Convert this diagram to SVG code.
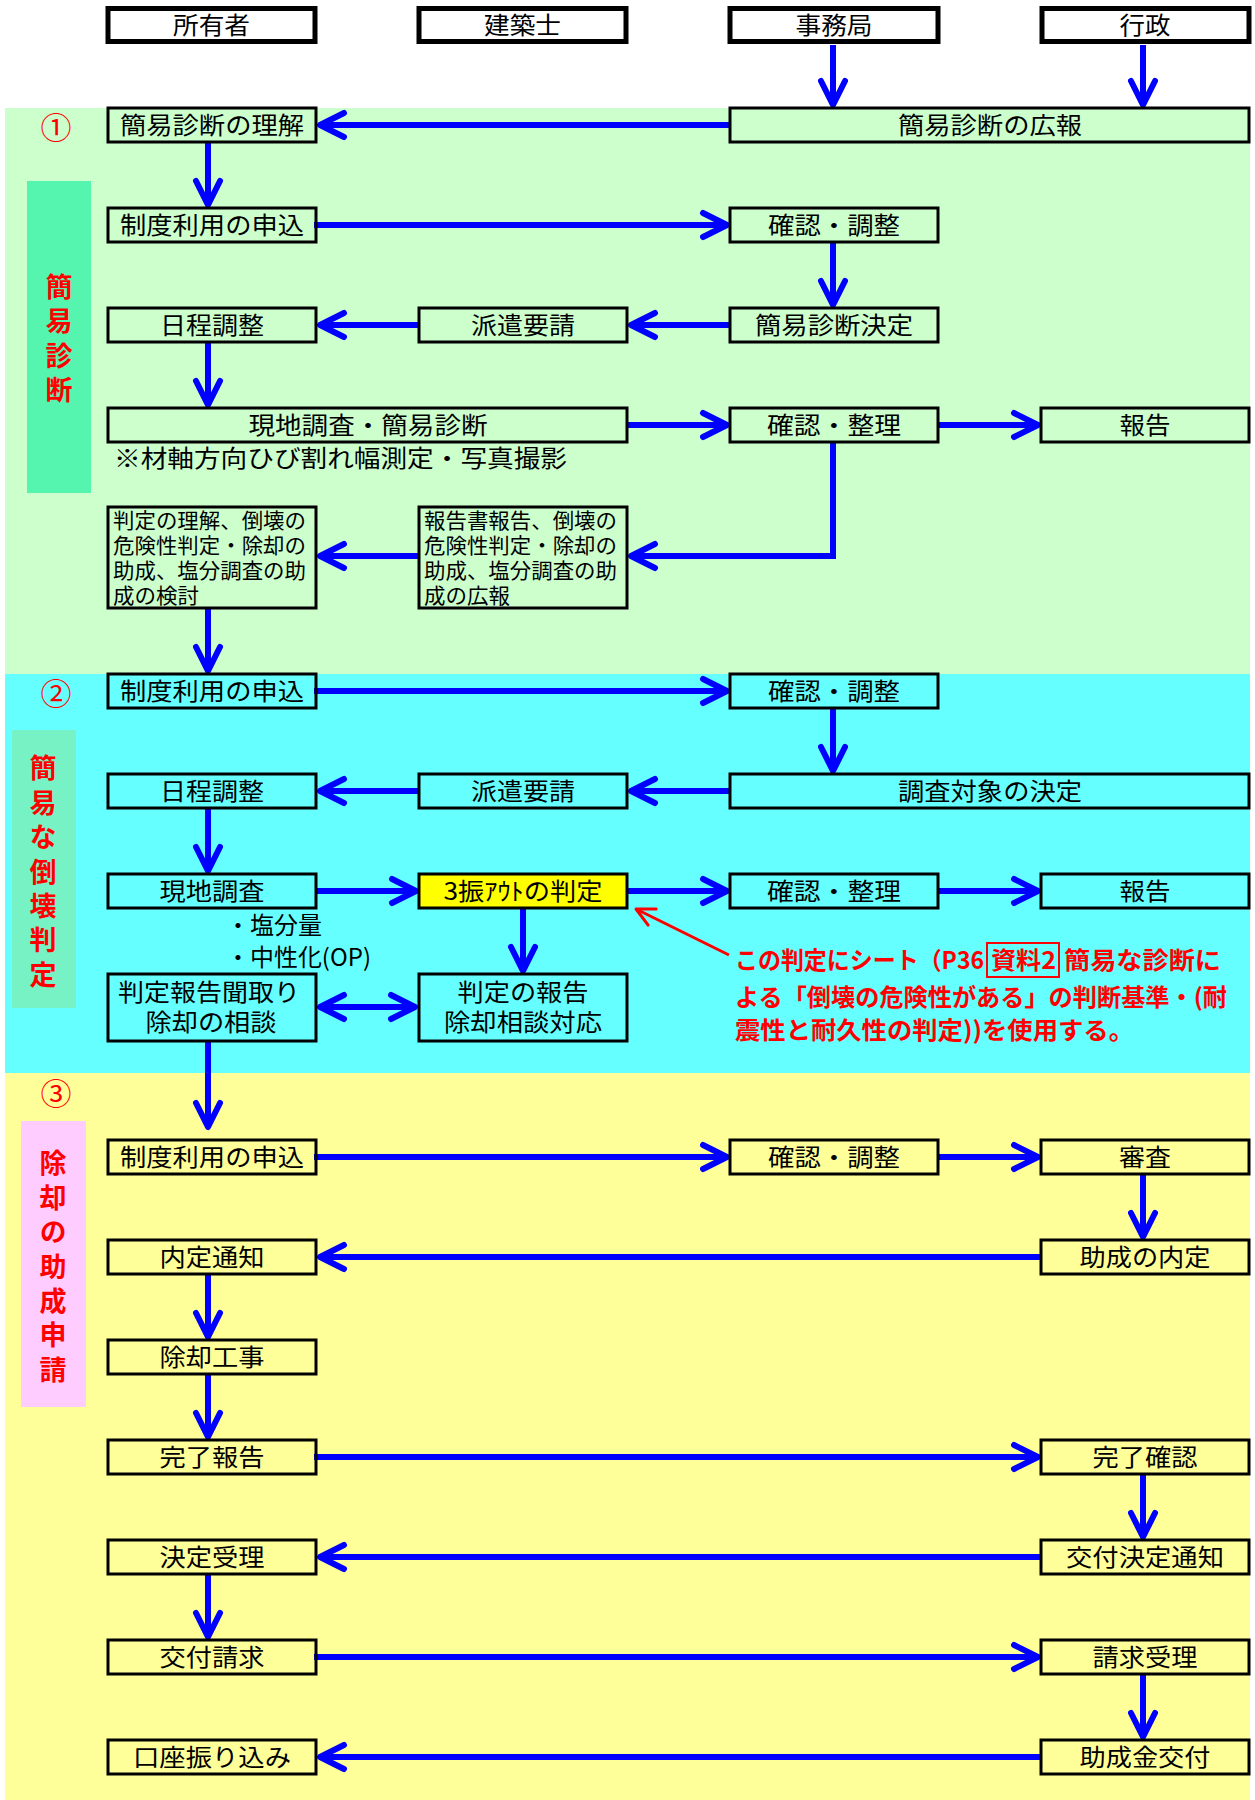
<svg xmlns="http://www.w3.org/2000/svg" width="1255" height="1800" viewBox="0 0 1255 1800">
<style>
.bx{fill:none;stroke:#000;stroke-width:3}
.hd{fill:#fff;stroke:#000;stroke-width:5}
.t{font-family:"Noto Sans CJK JP",sans-serif;font-size:24px;fill:#000;text-anchor:middle}
.tl{font-family:"Noto Sans CJK JP",sans-serif;font-size:21px;fill:#000;text-anchor:start}
.nt{font-family:"Noto Sans CJK JP",sans-serif;font-size:24px;fill:#000;text-anchor:start}
.lab{font-family:"Noto Sans CJK JP",sans-serif;font-weight:bold;font-size:27px;fill:#f00;text-anchor:middle;writing-mode:vertical-rl;letter-spacing:7.4px}
.num{font-family:"Noto Sans CJK JP",sans-serif;font-size:31px;fill:#f00;text-anchor:middle}
.red{font-family:"Noto Sans CJK JP",sans-serif;font-weight:bold;font-size:24px;fill:#f00;text-anchor:start}
.cn{fill:none;stroke:#00f;stroke-width:6;marker-end:url(#ah)}
</style>
<defs>
<marker id="ah" markerUnits="userSpaceOnUse" viewBox="-30 -16 34 32" refX="0" refY="0" markerWidth="34" markerHeight="32" orient="auto-start-reverse">
<path d="M-24,-12 L0,0 L-24,12" fill="none" stroke="#00f" stroke-width="6" stroke-linecap="round" stroke-linejoin="round"/>
</marker>
<marker id="ahr" markerUnits="userSpaceOnUse" viewBox="-22 -12 26 24" refX="0" refY="0" markerWidth="26" markerHeight="24" orient="auto">
<path d="M-18,-9 L0,0 L-18,9" fill="none" stroke="#f00" stroke-width="3" stroke-linecap="round" stroke-linejoin="round"/>
</marker>
</defs>
<rect width="1255" height="1800" fill="#fff"/>
<g id="backgrounds">
<rect x="5" y="108" width="1245" height="566" fill="#CCFFCC"/>
<rect x="5" y="674" width="1245" height="399" fill="#66FFFF"/>
<rect x="5" y="1073" width="1245" height="727" fill="#FFFF99"/>
<rect x="27" y="181" width="64" height="312" fill="#55F5B0"/>
<rect x="12" y="730" width="64" height="278" fill="#77F2C4"/>
<rect x="21" y="1121" width="65" height="286" fill="#FFCCFF"/>
</g>
<g id="section-labels">
<text class="num" x="56" y="139">①</text>
<text class="num" x="56" y="705">②</text>
<text class="num" x="56" y="1105">③</text>
<text class="lab" x="59" y="342">簡易診断</text>
<text class="lab" x="43" y="875">簡易な倒壊判定</text>
<text class="lab" x="53" y="1270">除却の助成申請</text>
</g>
<g id="headers">
<g id="h-owner"><rect class="hd" x="108" y="8.5" width="207" height="33"/><text class="t" x="211.5" y="34" textLength="77" lengthAdjust="spacingAndGlyphs">所有者</text></g>
<g id="h-architect"><rect class="hd" x="419" y="8.5" width="207" height="33"/><text class="t" x="522.5" y="34" textLength="77" lengthAdjust="spacingAndGlyphs">建築士</text></g>
<g id="h-office"><rect class="hd" x="730" y="8.5" width="208" height="33"/><text class="t" x="834" y="34" textLength="77" lengthAdjust="spacingAndGlyphs">事務局</text></g>
<g id="h-gov"><rect class="hd" x="1042" y="8.5" width="207" height="33"/><text class="t" x="1145" y="34" textLength="51" lengthAdjust="spacingAndGlyphs">行政</text></g>
</g>
<g id="connectors">
<path class="cn" d="M833,45 V105"/>
<path class="cn" d="M1143,45 V105"/>
<path class="cn" d="M730,125 H320"/>
<path class="cn" d="M208,142 V205"/>
<path class="cn" d="M314,225 H727"/>
<path class="cn" d="M833,242 V305"/>
<path class="cn" d="M730,325 H631"/>
<path class="cn" d="M419,325 H320"/>
<path class="cn" d="M208,342 V405"/>
<path class="cn" d="M627,425 H727"/>
<path class="cn" d="M938,425 H1038"/>
<path class="cn" d="M833,442 V556 H631"/>
<path class="cn" d="M419,556 H320"/>
<path class="cn" d="M208,608 V671"/>
<path class="cn" d="M314,691 H727"/>
<path class="cn" d="M833,708 V771"/>
<path class="cn" d="M730,791 H631"/>
<path class="cn" d="M419,791 H320"/>
<path class="cn" d="M208,808 V871"/>
<path class="cn" d="M316,891 H416"/>
<path class="cn" d="M627,891 H727"/>
<path class="cn" d="M938,891 H1038"/>
<path class="cn" d="M523,908 V971"/>
<path class="cn" d="M320,1007 H415" style="marker-start:url(#ah)"/>
<path class="cn" d="M208,1041 V1127"/>
<path d="M729,955 L636,909" fill="none" stroke="#f00" stroke-width="3" marker-end="url(#ahr)"/>
<path class="cn" d="M314,1157 H727"/>
<path class="cn" d="M938,1157 H1038"/>
<path class="cn" d="M1143,1174 V1237"/>
<path class="cn" d="M1041,1257 H320"/>
<path class="cn" d="M208,1274 V1337"/>
<path class="cn" d="M208,1374 V1437"/>
<path class="cn" d="M314,1457 H1038"/>
<path class="cn" d="M1143,1474 V1537"/>
<path class="cn" d="M1041,1557 H320"/>
<path class="cn" d="M208,1574 V1637"/>
<path class="cn" d="M314,1657 H1038"/>
<path class="cn" d="M1143,1674 V1737"/>
<path class="cn" d="M1041,1757 H320"/>
</g>
<g id="nodes">
<g id="n1"><rect class="bx" x="108" y="108" width="208" height="34"/><text class="t" x="212" y="134" textLength="184" lengthAdjust="spacingAndGlyphs">簡易診断の理解</text></g>
<g id="n2"><rect class="bx" x="730" y="108" width="519" height="34"/><text class="t" x="990" y="134" textLength="184" lengthAdjust="spacingAndGlyphs">簡易診断の広報</text></g>
<g id="n3"><rect class="bx" x="108" y="208" width="208" height="34"/><text class="t" x="212" y="234" textLength="184" lengthAdjust="spacingAndGlyphs">制度利用の申込</text></g>
<g id="n4"><rect class="bx" x="730" y="208" width="208" height="34"/><text class="t" x="834" y="234" textLength="132" lengthAdjust="spacingAndGlyphs">確認・調整</text></g>
<g id="n5"><rect class="bx" x="108" y="308" width="208" height="34"/><text class="t" x="212" y="334" textLength="104" lengthAdjust="spacingAndGlyphs">日程調整</text></g>
<g id="n6"><rect class="bx" x="419" y="308" width="208" height="34"/><text class="t" x="523" y="334" textLength="104" lengthAdjust="spacingAndGlyphs">派遣要請</text></g>
<g id="n7"><rect class="bx" x="730" y="308" width="208" height="34"/><text class="t" x="834" y="334" textLength="158" lengthAdjust="spacingAndGlyphs">簡易診断決定</text></g>
<g id="n8"><rect class="bx" x="108" y="408" width="519" height="34"/><text class="t" x="368" y="434" textLength="239" lengthAdjust="spacingAndGlyphs">現地調査・簡易診断</text></g>
<g id="n9"><rect class="bx" x="730" y="408" width="208" height="34"/><text class="t" x="834" y="434" textLength="134" lengthAdjust="spacingAndGlyphs">確認・整理</text></g>
<g id="n10"><rect class="bx" x="1041" y="408" width="208" height="34"/><text class="t" x="1145" y="434" textLength="51" lengthAdjust="spacingAndGlyphs">報告</text></g>
<text class="nt" x="114" y="467" textLength="453" lengthAdjust="spacingAndGlyphs">※材軸方向ひび割れ幅測定・写真撮影</text>
<g id="n11"><rect class="bx" x="108" y="507" width="208" height="101"/>
<text class="tl"><tspan x="113" y="528" textLength="193" lengthAdjust="spacingAndGlyphs">判定の理解、倒壊の</tspan><tspan x="113" y="553" textLength="193" lengthAdjust="spacingAndGlyphs">危険性判定・除却の</tspan><tspan x="113" y="578" textLength="193" lengthAdjust="spacingAndGlyphs">助成、塩分調査の助</tspan><tspan x="113" y="603" textLength="86" lengthAdjust="spacingAndGlyphs">成の検討</tspan></text></g>
<g id="n12"><rect class="bx" x="419" y="507" width="208" height="101"/>
<text class="tl"><tspan x="424" y="528" textLength="193" lengthAdjust="spacingAndGlyphs">報告書報告、倒壊の</tspan><tspan x="424" y="553" textLength="193" lengthAdjust="spacingAndGlyphs">危険性判定・除却の</tspan><tspan x="424" y="578" textLength="193" lengthAdjust="spacingAndGlyphs">助成、塩分調査の助</tspan><tspan x="424" y="603" textLength="86" lengthAdjust="spacingAndGlyphs">成の広報</tspan></text></g>
<g id="n13"><rect class="bx" x="108" y="674" width="208" height="34"/><text class="t" x="212" y="700" textLength="184" lengthAdjust="spacingAndGlyphs">制度利用の申込</text></g>
<g id="n14"><rect class="bx" x="730" y="674" width="208" height="34"/><text class="t" x="834" y="700" textLength="132" lengthAdjust="spacingAndGlyphs">確認・調整</text></g>
<g id="n15"><rect class="bx" x="108" y="774" width="208" height="34"/><text class="t" x="212" y="800" textLength="104" lengthAdjust="spacingAndGlyphs">日程調整</text></g>
<g id="n16"><rect class="bx" x="419" y="774" width="208" height="34"/><text class="t" x="523" y="800" textLength="104" lengthAdjust="spacingAndGlyphs">派遣要請</text></g>
<g id="n17"><rect class="bx" x="730" y="774" width="519" height="34"/><text class="t" x="990" y="800" textLength="184" lengthAdjust="spacingAndGlyphs">調査対象の決定</text></g>
<g id="n18"><rect class="bx" x="108" y="874" width="208" height="34"/><text class="t" x="212" y="900" textLength="105" lengthAdjust="spacingAndGlyphs">現地調査</text></g>
<g id="n19"><rect class="bx" x="419" y="874" width="208" height="34" style="fill:#FFFF00"/><text class="t" x="523" y="900" textLength="159" lengthAdjust="spacingAndGlyphs">3振ｱｳﾄの判定</text></g>
<g id="n20"><rect class="bx" x="730" y="874" width="208" height="34"/><text class="t" x="834" y="900" textLength="134" lengthAdjust="spacingAndGlyphs">確認・整理</text></g>
<g id="n21"><rect class="bx" x="1041" y="874" width="208" height="34"/><text class="t" x="1145" y="900" textLength="51" lengthAdjust="spacingAndGlyphs">報告</text></g>
<text class="nt" x="226" y="934" textLength="96" lengthAdjust="spacingAndGlyphs">・塩分量</text>
<text class="nt" x="226" y="966" textLength="145" lengthAdjust="spacingAndGlyphs">・中性化(OP)</text>
<g id="n22"><rect class="bx" x="108" y="974" width="208" height="67"/><text class="t"><tspan x="209" y="1001" textLength="182" lengthAdjust="spacingAndGlyphs">判定報告聞取り</tspan><tspan x="211" y="1031" textLength="131" lengthAdjust="spacingAndGlyphs">除却の相談</tspan></text></g>
<g id="n23"><rect class="bx" x="419" y="974" width="208" height="67"/><text class="t"><tspan x="523" y="1001" textLength="131" lengthAdjust="spacingAndGlyphs">判定の報告</tspan><tspan x="523" y="1031" textLength="158" lengthAdjust="spacingAndGlyphs">除却相談対応</tspan></text></g>
<g id="note-red">
<rect x="987" y="943" width="72" height="34" fill="none" stroke="#f00" stroke-width="2"/>
<text class="red" x="735" y="969" textLength="249" lengthAdjust="spacingAndGlyphs">この判定にシート（P36</text>
<text class="red" x="991" y="969" textLength="65" lengthAdjust="spacingAndGlyphs">資料2</text>
<text class="red" x="1064" y="969" textLength="157" lengthAdjust="spacingAndGlyphs">簡易な診断に</text>
<text class="red" x="735" y="1006" textLength="492" lengthAdjust="spacingAndGlyphs">よる「倒壊の危険性がある」の判断基準・(耐</text>
<text class="red" x="735" y="1039" textLength="399" lengthAdjust="spacingAndGlyphs">震性と耐久性の判定))を使用する。</text>
</g>
<g id="n24"><rect class="bx" x="108" y="1140" width="208" height="34"/><text class="t" x="212" y="1166" textLength="184" lengthAdjust="spacingAndGlyphs">制度利用の申込</text></g>
<g id="n25"><rect class="bx" x="730" y="1140" width="208" height="34"/><text class="t" x="834" y="1166" textLength="132" lengthAdjust="spacingAndGlyphs">確認・調整</text></g>
<g id="n26"><rect class="bx" x="1041" y="1140" width="208" height="34"/><text class="t" x="1145" y="1166" textLength="52" lengthAdjust="spacingAndGlyphs">審査</text></g>
<g id="n27"><rect class="bx" x="108" y="1240" width="208" height="34"/><text class="t" x="212" y="1266" textLength="105" lengthAdjust="spacingAndGlyphs">内定通知</text></g>
<g id="n28"><rect class="bx" x="1041" y="1240" width="208" height="34"/><text class="t" x="1145" y="1266" textLength="131" lengthAdjust="spacingAndGlyphs">助成の内定</text></g>
<g id="n29"><rect class="bx" x="108" y="1340" width="208" height="34"/><text class="t" x="212" y="1366" textLength="105" lengthAdjust="spacingAndGlyphs">除却工事</text></g>
<g id="n30"><rect class="bx" x="108" y="1440" width="208" height="34"/><text class="t" x="212" y="1466" textLength="105" lengthAdjust="spacingAndGlyphs">完了報告</text></g>
<g id="n31"><rect class="bx" x="1041" y="1440" width="208" height="34"/><text class="t" x="1145" y="1466" textLength="105" lengthAdjust="spacingAndGlyphs">完了確認</text></g>
<g id="n32"><rect class="bx" x="108" y="1540" width="208" height="34"/><text class="t" x="212" y="1566" textLength="105" lengthAdjust="spacingAndGlyphs">決定受理</text></g>
<g id="n33"><rect class="bx" x="1041" y="1540" width="208" height="34"/><text class="t" x="1145" y="1566" textLength="158" lengthAdjust="spacingAndGlyphs">交付決定通知</text></g>
<g id="n34"><rect class="bx" x="108" y="1640" width="208" height="34"/><text class="t" x="212" y="1666" textLength="105" lengthAdjust="spacingAndGlyphs">交付請求</text></g>
<g id="n35"><rect class="bx" x="1041" y="1640" width="208" height="34"/><text class="t" x="1145" y="1666" textLength="105" lengthAdjust="spacingAndGlyphs">請求受理</text></g>
<g id="n36"><rect class="bx" x="108" y="1740" width="208" height="34"/><text class="t" x="212" y="1766" textLength="158" lengthAdjust="spacingAndGlyphs">口座振り込み</text></g>
<g id="n37"><rect class="bx" x="1041" y="1740" width="208" height="34"/><text class="t" x="1145" y="1766" textLength="131" lengthAdjust="spacingAndGlyphs">助成金交付</text></g>
</g>
</svg>
